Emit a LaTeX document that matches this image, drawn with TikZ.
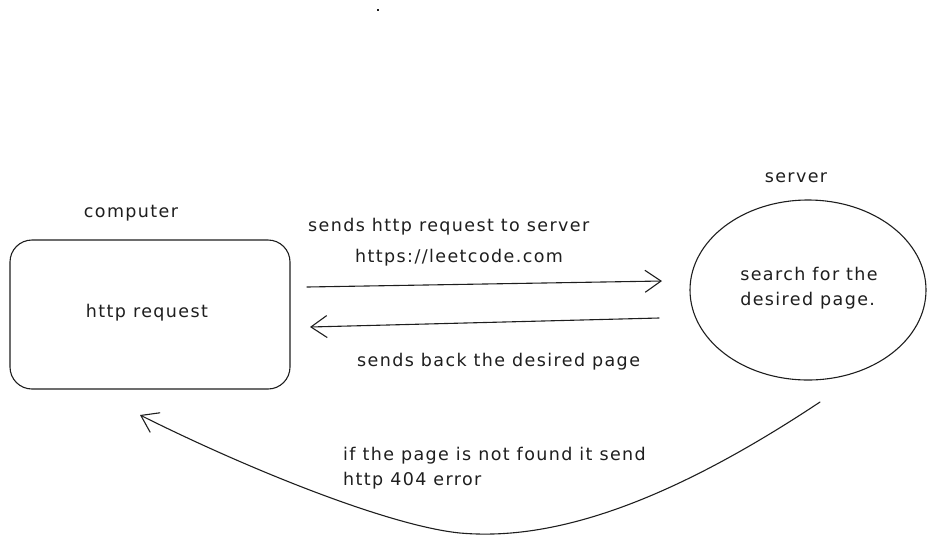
\documentclass[tikz,border=0pt]{standalone}
\usepackage{fontspec}
\setmainfont{DejaVu Sans}[LetterSpace=8]
\usetikzlibrary{arrows.meta,shapes.geometric}
\definecolor{ink}{HTML}{1E1E1E}
\tikzset{
  sk/.style={draw=ink, line width=1.1pt, line cap=round, line join=round},
  lbl/.style={text=ink, font=\fontsize{17.5}{25}\selectfont, inner sep=0pt},
  tip/.style={-{Straight Barb[length=16pt,width=22pt,line width=1.1pt]}}
}
\begin{document}
\begin{tikzpicture}[x=1pt,y=-1pt]
\useasboundingbox (0,0) rectangle (936,542);
\fill[ink] (377,8.5) rectangle (379,11);
% computer box
\node[sk, rounded corners=22pt, minimum width=280pt, minimum height=149pt, inner sep=0pt] (comp) at (150,314.5) {};
\node[lbl] (comptxt) at (147,313) {http request};
\node[lbl] (complbl) at (131,213) {computer};
% server ellipse
\node[sk, ellipse, minimum width=236pt, minimum height=180pt, inner sep=0pt] (srv) at (808,290) {};
\node[lbl, align=left] (srvtxt) at (809,288) {search for the\\desired page.};
\node[lbl] (srvlbl) at (796,178) {server};
% arrows
\coordinate (a1s) at (307,287);
\coordinate (a1e) at (662,281);
\draw[sk, tip] (a1s) -- (a1e);
\coordinate (a2s) at (659,318);
\coordinate (a2e) at (310,327);
\draw[sk, tip] (a2s) -- (a2e);
\node[lbl, anchor=west] (l1) at (308,227) {sends http request to server};
\node[lbl, anchor=west] (l2) at (355,258) {https://leetcode.com};
\node[lbl, anchor=west] (l3) at (357,362) {sends back the desired page};
% 404 curve
\coordinate (cs) at (820,402);
\coordinate (ce) at (140,415);
\draw[sk, tip] (cs) .. controls (650,515) and (540,540) .. (460,533)
   .. controls (390,526) and (250,470) .. (ce);
\node[lbl, anchor=west, align=left] (l4) at (343,468.5) {if the page is not found it send\\http 404 error};
\end{tikzpicture}
\end{document}
